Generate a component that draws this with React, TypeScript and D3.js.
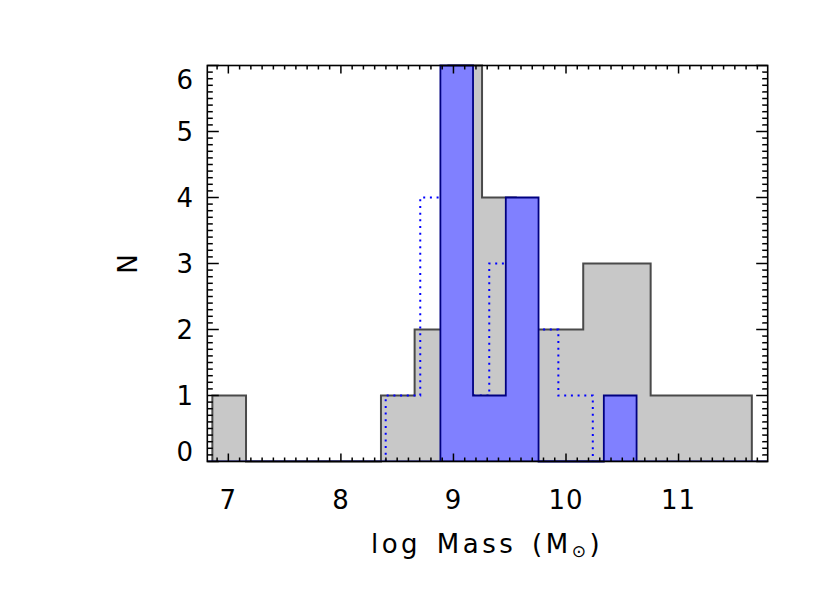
import React from "react";
import * as d3 from "d3";

// ---- data ----
const grayEdges = [6.858, 7.157, 7.457, 7.756, 8.056, 8.356, 8.655, 8.955, 9.254, 9.554, 9.853, 10.153, 10.452, 10.752, 11.052, 11.351, 11.651];
const grayCounts = [1, 0, 0, 0, 0, 1, 2, 6, 4, 2, 2, 3, 3, 1, 1, 1];

const blueEdges = [8.884, 9.174, 9.465, 9.756, 10.046, 10.336, 10.627];
const blueCounts = [6, 1, 4, 0, 0, 1];

const dottedEdges = [8.398, 8.705, 9.012, 9.318, 9.625, 9.932, 10.238];
const dottedCounts = [1, 4, 1, 3, 2, 1];

const xTickLabels = [7, 8, 9, 10, 11];
const yTickLabels = [0, 1, 2, 3, 4, 5, 6];

const xDomain: [number, number] = [6.813, 11.792];
const yDomain: [number, number] = [0, 6];

// ---- layout ----
const W = 830, H = 593;
const L = 207.3, R = 767.7, T = 65.5, B = 461.5;
const FONT = "'DejaVu Sans', sans-serif";

function stepPath(edges: number[], counts: number[], x: d3.ScaleLinear<number, number>, y: d3.ScaleLinear<number, number>, close: boolean) {
  const p = d3.path();
  p.moveTo(x(edges[0]), y(0));
  counts.forEach((c, i) => {
    p.lineTo(x(edges[i]), y(c));
    p.lineTo(x(edges[i + 1]), y(c));
  });
  p.lineTo(x(edges[edges.length - 1]), y(0));
  if (close) p.closePath();
  return p.toString();
}

export default function App() {
  const x = d3.scaleLinear().domain(xDomain).range([L, R]);
  const y = d3.scaleLinear().domain(yDomain).range([B, T]);

  const xMinor = d3.range(69, 118).map((v) => v / 10).filter((v) => !xTickLabels.includes(v));
  const yMinor = d3.range(0, 61).map((v) => v / 10).filter((v) => !yTickLabels.includes(v));

  const xMajLen = 8, xMinLen = 4, yMajLen = 11.5, yMinLen = 5.5;
  const axisColor = "#000";

  return (
    <svg width={W} height={H} style={{ position: "absolute", left: 0, top: 0, background: "#fff" }}>
      {/* gray histogram */}
      <path d={stepPath(grayEdges, grayCounts, x, y, true)} fill="#c8c8c8" stroke="none" />
      <path d={stepPath(grayEdges, grayCounts, x, y, false)} fill="none" stroke="#4a4a4a" strokeWidth={2} />
      {/* dotted histogram */}
      <path d={stepPath(dottedEdges, dottedCounts, x, y, false)} fill="none" stroke="#0000ff" strokeWidth={2} strokeDasharray="2 4.7" />
      {/* blue histogram */}
      <path d={stepPath(blueEdges, blueCounts, x, y, true)} fill="#8080ff" stroke="none" />
      <path d={stepPath(blueEdges, blueCounts, x, y, false)} fill="none" stroke="#000080" strokeWidth={1.8} />
      <line x1={L} x2={R} y1={B - 0.5} y2={B - 0.5} stroke="#000080" strokeWidth={1} />

      {/* axes frame */}
      <rect x={L} y={T} width={R - L} height={B - T} fill="none" stroke={axisColor} strokeWidth={1.6} />
      {xTickLabels.map((v) => (
        <g key={"xM" + v}>
          <line x1={x(v)} x2={x(v)} y1={B} y2={B - xMajLen} stroke={axisColor} strokeWidth={1.5} />
          <line x1={x(v)} x2={x(v)} y1={T} y2={T + xMajLen} stroke={axisColor} strokeWidth={1.5} />
        </g>
      ))}
      {xMinor.map((v) => (
        <g key={"xm" + v}>
          <line x1={x(v)} x2={x(v)} y1={B} y2={B - xMinLen} stroke={axisColor} strokeWidth={1.5} />
          <line x1={x(v)} x2={x(v)} y1={T} y2={T + xMinLen} stroke={axisColor} strokeWidth={1.5} />
        </g>
      ))}
      {yTickLabels.map((v) => (
        <g key={"yM" + v}>
          <line x1={L} x2={L + yMajLen} y1={y(v)} y2={y(v)} stroke={axisColor} strokeWidth={1.5} />
          <line x1={R} x2={R - yMajLen} y1={y(v)} y2={y(v)} stroke={axisColor} strokeWidth={1.5} />
        </g>
      ))}
      {yMinor.map((v) => (
        <g key={"ym" + v}>
          <line x1={L} x2={L + yMinLen} y1={y(v)} y2={y(v)} stroke={axisColor} strokeWidth={1.5} />
          <line x1={R} x2={R - yMinLen} y1={y(v)} y2={y(v)} stroke={axisColor} strokeWidth={1.5} />
        </g>
      ))}

      {/* x tick labels */}
      {xTickLabels.map((v) => (
        <text key={"xl" + v} x={x(v)} y={509} textAnchor="middle" fontFamily={FONT} fontSize={26} letterSpacing={1} fill="#000">
          {v}
        </text>
      ))}
      {/* y tick labels */}
      {yTickLabels.map((v) => {
        const cy = Math.min(Math.max(y(v), T + 14), B - 10);
        return (
          <text key={"yl" + v} x={193} y={cy + 9} textAnchor="end" fontFamily={FONT} fontSize={26} fill="#000">
            {v}
          </text>
        );
      })}

      {/* axis titles */}
      <text x={487} y={553} textAnchor="middle" fontFamily={FONT} fontSize={26} letterSpacing={3.5} wordSpacing={4} fill="#000">
        log Mass (M<tspan fontSize={17} dy={4}>⊙</tspan><tspan dy={-4}>)</tspan>
      </text>
      <text transform={`translate(${128},${264}) rotate(-90)`} textAnchor="middle" dominantBaseline="central" fontFamily={FONT} fontSize={26} fill="#000">
        N
      </text>
    </svg>
  );
}
